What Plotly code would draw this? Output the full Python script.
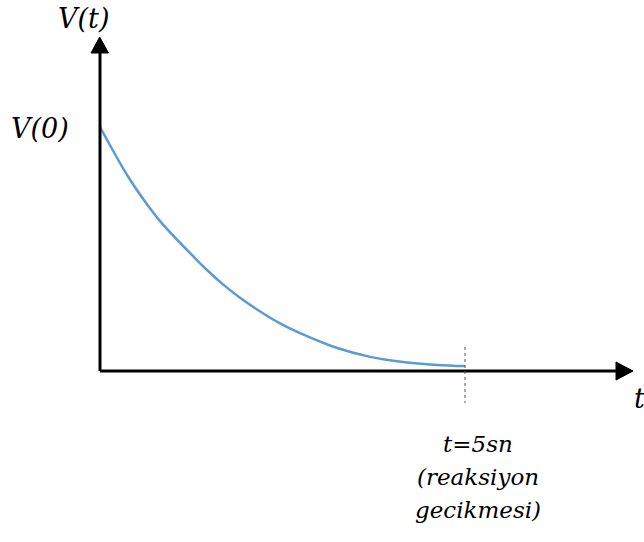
import plotly.graph_objects as go

# Decay of V(t) from V(0) down to the reaction-delay time t = 5 s
t_vals = [0.0, 0.384, 0.616, 0.849, 1.30, 1.466, 1.685, 1.918, 2.151,
          2.466, 2.78, 3.25, 3.70, 4.15, 4.62, 5.0]
v_vals = [1.0, 0.797, 0.695, 0.605, 0.463, 0.414, 0.355, 0.300, 0.252,
          0.195, 0.150, 0.094, 0.058, 0.037, 0.025, 0.020]

t_delay = 5.0
y_label = "V(t)"
v0_label = "V(0)"
x_label = "t"
delay_lines = ["t=5sn", "(reaksiyon", "gecikmesi)"]

W, H = 644, 542
# pixel scale: origin at (100, 371), 73 px per second, 244 px per unit V
x0_px, y0_px, sx, sy = 100, 371, 73.0, 244.0
x_range = [-x0_px / sx, (W - x0_px) / sx]
y_range = [-(H - y0_px) / sy, y0_px / sy]


def px_x(p):
    return (p - x0_px) / sx


def px_y(p):
    return (y0_px - p) / sy


fig = go.Figure()

fig.add_trace(go.Scatter(
    x=t_vals, y=v_vals, mode="lines", line_shape="spline",
    line=dict(color="#5B9BD5", width=2.5), hoverinfo="skip", showlegend=False,
))

shapes = []
# axes
shapes.append(dict(type="line", x0=0, y0=0, x1=0, y1=px_y(50),
                   line=dict(color="black", width=3)))
shapes.append(dict(type="line", x0=0, y0=0, x1=px_x(619), y1=0,
                   line=dict(color="black", width=3)))
# arrow heads
ya = (f"M {px_x(91)} {px_y(53)} L {px_x(108.5)} {px_y(53)} "
      f"L {px_x(99.7)} {px_y(37)} Z")
xa = (f"M {px_x(616)} {px_y(362)} L {px_x(616)} {px_y(380)} "
      f"L {px_x(633)} {px_y(371)} Z")
for p in (ya, xa):
    shapes.append(dict(type="path", path=p, fillcolor="black",
                       line=dict(color="black", width=1)))
# reaction-delay marker
shapes.append(dict(type="line", x0=t_delay, x1=t_delay, y0=px_y(347), y1=px_y(403),
                   line=dict(color="#555555", width=1, dash="dot")))

font_big = dict(family="DejaVu Serif", size=27, color="black", style="italic")
font_small = dict(family="DejaVu Serif", size=23, color="black", style="italic")

annotations = [
    dict(x=px_x(83), y=px_y(18), text=y_label, showarrow=False, font=font_big,
         xanchor="center", yanchor="middle"),
    dict(x=px_x(40), y=px_y(128), text=v0_label, showarrow=False, font=font_big,
         xanchor="center", yanchor="middle"),
    dict(x=px_x(632), y=px_y(398), text=x_label, showarrow=False, font=font_big,
         xanchor="left", yanchor="middle"),
]
for i, line in enumerate(delay_lines):
    annotations.append(dict(x=px_x(478), y=px_y(444 + 33 * i), text=line,
                            showarrow=False, font=font_small,
                            xanchor="center", yanchor="middle"))

fig.update_layout(
    width=W, height=H, margin=dict(l=0, r=0, t=0, b=0),
    paper_bgcolor="white", plot_bgcolor="white",
    xaxis=dict(range=x_range, visible=False, fixedrange=True),
    yaxis=dict(range=y_range, visible=False, fixedrange=True),
    shapes=shapes, annotations=annotations, showlegend=False,
)

fig.write_html("out.html")
